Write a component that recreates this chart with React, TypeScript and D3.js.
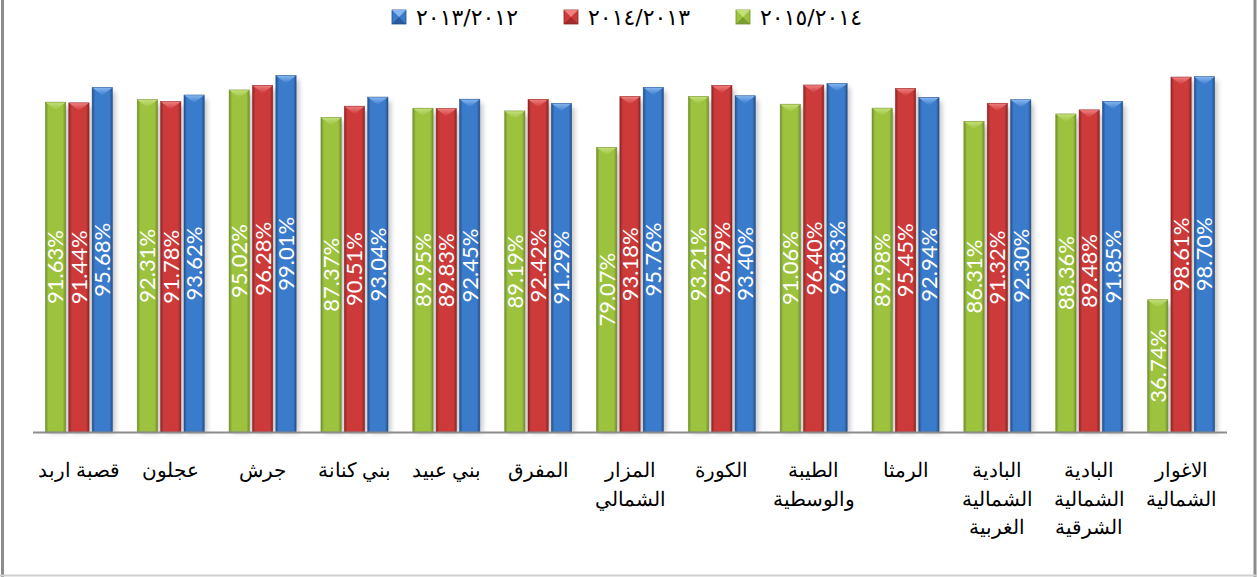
import React from "react";
import { useMemo } from "react";
import * as d3 from "d3";

const W = 1257;
const H = 577;

const categories = [
  "قصبة اربد",
  "عجلون",
  "جرش",
  "بني كنانة",
  "بني عبيد",
  "المفرق",
  "المزار الشمالي",
  "الكورة",
  "الطيبة والوسطية",
  "الرمثا",
  "البادية الشمالية الغربية",
  "البادية الشمالية الشرقية",
  "الاغوار الشمالية",
];

// how the axis labels wrap (lines per category)
const categoryLines = [
  ["قصبة اربد"],
  ["عجلون"],
  ["جرش"],
  ["بني كنانة"],
  ["بني عبيد"],
  ["المفرق"],
  ["المزار", "الشمالي"],
  ["الكورة"],
  ["الطيبة", "والوسطية"],
  ["الرمثا"],
  ["البادية", "الشمالية", "الغربية"],
  ["البادية", "الشمالية", "الشرقية"],
  ["الاغوار", "الشمالية"],
];

const seriesNames = ["٢٠١٥/٢٠١٤", "٢٠١٤/٢٠١٣", "٢٠١٣/٢٠١٢"];

const values2015 = [91.63, 92.31, 95.02, 87.37, 89.95, 89.19, 79.07, 93.21, 91.06, 89.98, 86.31, 88.36, 36.74];
const values2014 = [91.44, 91.78, 96.28, 90.51, 89.83, 92.42, 93.18, 96.29, 96.4, 95.45, 91.32, 89.48, 98.61];
const values2013 = [95.68, 93.62, 99.01, 93.04, 92.45, 91.29, 95.76, 93.4, 96.83, 92.94, 92.3, 91.85, 98.7];

const seriesValues = [values2015, values2014, values2013];

// [edge, mid, light]
const palettes = [
  ["#6f8f2c", "#9cc23e", "#c4e07a"], // green
  ["#8e2424", "#cd3a3a", "#f08080"], // red
  ["#234f8a", "#3b7bcc", "#86b8f0"], // blue
];

// legend shown blue, red, green from left
const legendOrder = [2, 1, 0];

const AXIS_LEFT = 33;
const AXIS_RIGHT = 1227;
const BASE_Y = 432;
const TOP_Y = 72;

export default function App() {
  const x0 = useMemo(
    () => d3.scaleBand<number>().domain(d3.range(categories.length)).range([AXIS_LEFT, AXIS_RIGHT]).paddingInner(0.27).paddingOuter(0.135),
    []
  );
  const x1 = useMemo(
    () => d3.scaleBand<number>().domain([0, 1, 2]).range([0, x0.bandwidth()]).paddingInner(0.13),
    [x0]
  );
  const y = useMemo(() => d3.scaleLinear().domain([0, 100]).range([BASE_Y, TOP_Y]), []);

  const bw = x1.bandwidth();

  return (
    <div style={{ position: "fixed", left: 0, top: 0, width: W, height: H, background: "#fff" }}>
      <svg width={W} height={H} style={{ display: "block" }}>
        <defs>
          {palettes.map((p, i) => (
            <linearGradient key={"g" + i} id={"bar" + i} x1="0" x2="1" y1="0" y2="0">
              <stop offset="0" stopColor={p[0]} />
              <stop offset="0.15" stopColor={p[1]} />
              <stop offset="0.45" stopColor={p[1]} />
              <stop offset="0.85" stopColor={p[1]} />
              <stop offset="1" stopColor={p[0]} />
            </linearGradient>
          ))}
          {palettes.map((p, i) => (
            <linearGradient key={"t" + i} id={"top" + i} x1="0" x2="0" y1="0" y2="1">
              <stop offset="0" stopColor={p[2]} />
              <stop offset="1" stopColor={p[1]} />
            </linearGradient>
          ))}
          <filter id="shadow" x="-50%" y="-10%" width="200%" height="120%">
            <feGaussianBlur stdDeviation="2.5" />
          </filter>
        </defs>

        {/* outer frame */}
        <line x1={2.5} y1={0} x2={2.5} y2={H} stroke="#8c8c8c" strokeWidth={3} />
        <line x1={1255} y1={0} x2={1255} y2={H} stroke="#8c8c8c" strokeWidth={3} />
        <line x1={0} y1={575.5} x2={W} y2={575.5} stroke="#d0d0d0" strokeWidth={2} />

        {/* legend */}
        <g>
          {legendOrder.map((s, k) => {
            const lx = 392 + k * 172;
            const p = palettes[s];
            return (
              <g key={s} transform={`translate(${lx},10)`}>
                <rect width={14} height={14} fill={p[1]} stroke={p[0]} strokeWidth={0.8} />
                <path d="M0,0 L14,0 L7,7 Z" fill={p[2]} />
                <path d="M0,14 L14,14 L7,7 Z" fill={p[0]} opacity={0.7} />
                <text
                  x={24}
                  y={7}
                  dy="0.36em"
                  fontFamily="'DejaVu Sans', sans-serif"
                  fontSize={22}
                  letterSpacing={2}
                  fill="#000"
                  direction="ltr"
                >
                  {seriesNames[s]}
                </text>
              </g>
            );
          })}
        </g>

        {/* bars */}
        {categories.map((c, i) => (
          <g key={c} transform={`translate(${x0(i)},0)`}>
            {seriesValues.map((vals, s) => {
              const v = vals[i];
              const bx = x1(s) as number;
              const by = y(v);
              const bh = BASE_Y - by;
              return (
                <g key={s}>
                  <rect x={bx + 3} y={by + 4} width={bw} height={bh - 3} fill="#000" opacity={0.22} filter="url(#shadow)" />
                  <rect x={bx} y={by} width={bw} height={bh} fill={`url(#bar${s})`} />
                  <path
                    d={`M${bx},${by} L${bx + bw},${by} L${bx + bw / 2},${by + 8} Z`}
                    fill={`url(#top${s})`}
                  />
                  <rect x={bx} y={by} width={bw} height={bh} fill="none" stroke={palettes[s][0]} strokeWidth={0.6} opacity={0.8} />
                  <text
                    transform={`translate(${bx + bw / 2},${by + bh / 2}) rotate(-90)`}
                    textAnchor="middle"
                    dy="0.36em"
                    fontFamily="Lato, 'Open Sans', sans-serif"
                    fontSize={22}
                    fill="#fff"
                  >
                    {v.toFixed(2) + "%"}
                  </text>
                </g>
              );
            })}
          </g>
        ))}

        {/* axis */}
        <line x1={AXIS_LEFT} x2={AXIS_RIGHT} y1={BASE_Y + 0.5} y2={BASE_Y + 0.5} stroke="#8c8c8c" strokeWidth={2} />
        {categoryLines.map((lines, i) => (
          <text
            key={i}
            x={(x0(i) as number) + x0.bandwidth() / 2}
            y={477}
            textAnchor="middle"
            fontFamily="'Liberation Sans', Arial, sans-serif"
            fontSize={20}
            fill="#000"
            direction="rtl"
          >
            {lines.map((l, j) => (
              <tspan key={j} x={(x0(i) as number) + x0.bandwidth() / 2} dy={j === 0 ? 0 : 28.5}>
                {l}
              </tspan>
            ))}
          </text>
        ))}
      </svg>
    </div>
  );
}
